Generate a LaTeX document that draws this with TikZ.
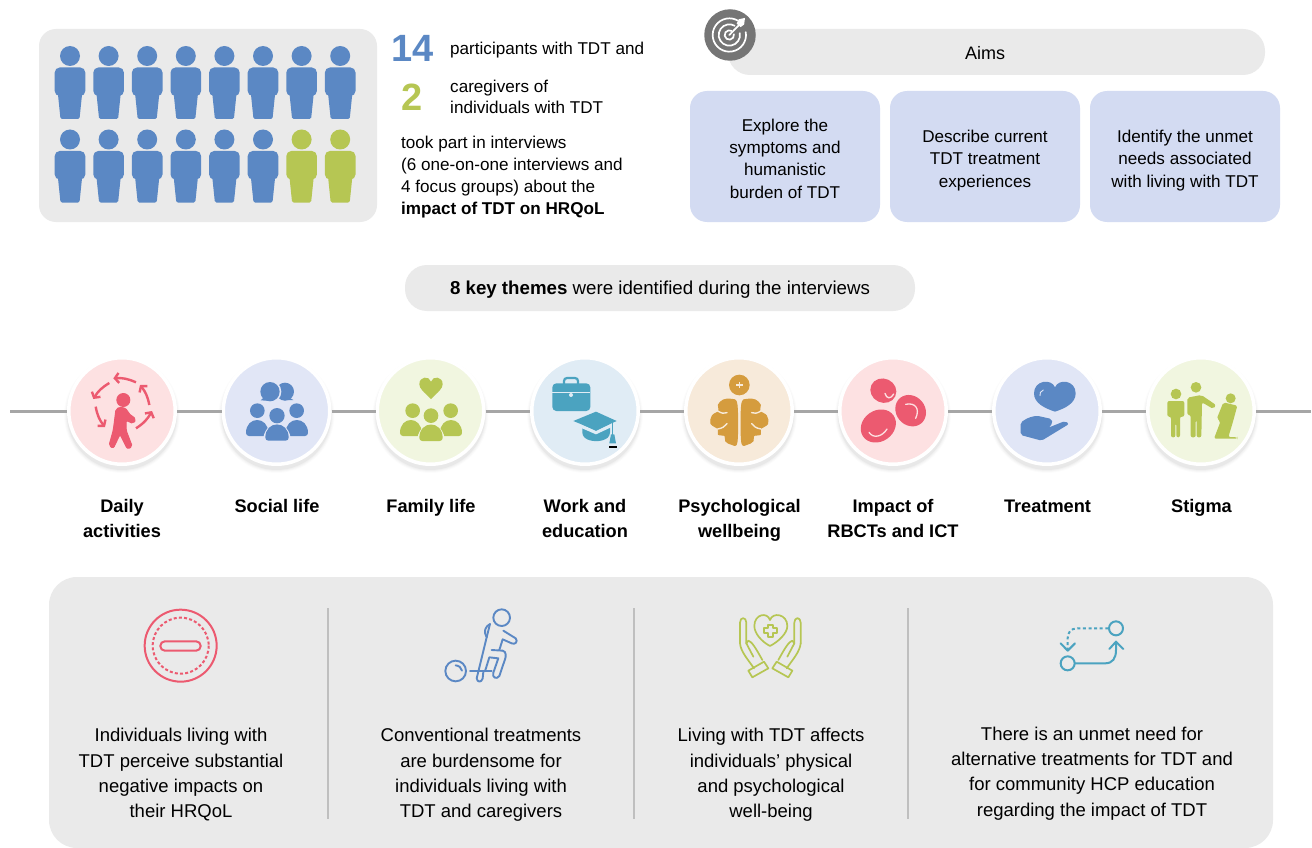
\documentclass[tikz,border=0pt]{standalone}
\usepackage{fontspec}
\setmainfont{Liberation Sans}
\usetikzlibrary{arrows.meta}
\definecolor{pblue}{HTML}{5B88C4}
\definecolor{pgreen}{HTML}{B6C653}
\definecolor{pred}{HTML}{EC5A70}
\definecolor{pteal}{HTML}{4BA3C0}
\definecolor{ptan}{HTML}{D59C3E}
\definecolor{panel}{HTML}{EAEAEA}
\definecolor{aimbox}{HTML}{D3DBF2}
\definecolor{cpink}{HTML}{FDE1E2}
\definecolor{clav}{HTML}{E1E6F6}
\definecolor{cgreen}{HTML}{F1F6E0}
\definecolor{csky}{HTML}{E0ECF5}
\definecolor{ccream}{HTML}{F7EADA}
\tikzset{
  pics/figure/.style={code={
    \fill[#1] (0,0) circle (10);
    \fill[#1,rounded corners=5] (-15.3,24) -- (-15.3,11.5) -- (15.3,11.5) -- (15.3,24) -- (15.3,40) -- (-15.3,40) -- cycle;
    \fill[#1,rounded corners=1.5] (-12.5,34) -- (12.5,34) -- (9.5,63) -- (-9.5,63) -- cycle;
  }},
  txt/.style={inner sep=0pt,font=\fontsize{17.1}{22.3}\selectfont,align=left},
  aimcard/.style={fill=aimbox,rounded corners=17pt,minimum width=190pt,minimum height=131pt,inner sep=0pt},
  aimtxt/.style={inner sep=0pt,font=\fontsize{17.1}{22.3}\selectfont,align=center},
  pill/.style={fill=panel,rounded corners=22pt,inner sep=0pt},
  bubble/.style={circle,draw=white,line width=3.5pt,minimum size=106.5pt,inner sep=0pt},
  theme/.style={inner sep=0pt,anchor=north,align=center,font=\fontsize{18.2}{25.3}\selectfont\bfseries},
  tline/.style={draw=black!35,line width=3pt},
  concl/.style={inner sep=0pt,anchor=north,align=center,font=\fontsize{18.5}{25.4}\selectfont},
  divider/.style={draw=black!25,line width=1.6pt},
  zoomA/.style={shift={(50,345)},x=0.33333pt,y=-0.33333pt},
  zoomB/.style={shift={(515,345)},x=0.33333pt,y=-0.33333pt},
  zoomC/.style={shift={(980,345)},x=0.33333pt,y=-0.33333pt},
  zoomD/.style={shift={(130,600)},x=0.33333pt,y=-0.33333pt},
  zoomE/.style={shift={(720,600)},x=0.33333pt,y=-0.33333pt},
  zoomT/.style={shift={(690,0)},x=0.33333pt,y=-0.33333pt},
  chev/.style={-{Straight Barb[length=4pt,width=10pt,line width=2.4pt]}},
}
\newcommand{\dome}[4]{(#1,#4) .. controls (#1,#3) and (#2,#3) .. (#2,#4) -- cycle}
\newcommand{\fs}{\rule{0pt}{14pt}}
\begin{document}
\begin{tikzpicture}[x=1pt,y=-1pt]
\useasboundingbox (0,0) rectangle (1312,848);
\fill[white] (0,0) rectangle (1312,848);

% --- participants panel
\fill[panel,rounded corners=17pt] (39,29) rectangle (377,222);
\foreach \i in {0,...,7} \pic at ({70+38.6*\i},56) {figure=pblue};
\foreach \i in {0,...,5} \pic at ({70+38.6*\i},139.5) {figure=pblue};
\foreach \i in {6,7} \pic at ({70+38.6*\i},139.5) {figure=pgreen};

\node[inner sep=0pt,font=\fontsize{38}{38}\selectfont\bfseries,text=pblue] (n14) at (413,48) {14};
\node[inner sep=0pt,font=\fontsize{38}{38}\selectfont\bfseries,text=pgreen] (n2) at (412,97) {2};
\node[txt,anchor=west] (t14) at (450,50) {participants with TDT and};
\node[txt,anchor=west,font=\fontsize{17.1}{21}\selectfont] (t2) at (450,97) {caregivers of\\individuals with TDT};
\node[txt,anchor=north west] (tint) at (401,135.5) {took part in interviews\\(6 one-on-one interviews and\\4 focus groups) about the\\\textbf{impact of TDT on HRQoL}};

% --- aims
\node[pill,minimum width=537pt,minimum height=46pt] (aims) at (996.5,52) {};
\node[inner sep=0pt,font=\fontsize{18}{22}\selectfont] (aimst) at (985,53.5) {Aims};
\node[circle,fill=black!54,minimum size=51.5pt,inner sep=0pt] (target) at (730,35) {};
\begin{scope}[zoomT,draw=white,line width=1.7pt,line cap=round]
  \draw ([shift={(118,105)}]-10:50) arc[start angle=-10,delta angle=310,radius=50];
  \draw ([shift={(118,105)}]-10:32) arc[start angle=-10,delta angle=310,radius=32];
  \draw ([shift={(118,105)}]-10:14) arc[start angle=-10,delta angle=310,radius=14];
  \draw (118,105) -- (150,72);
  \draw[fill=white] (143,70) -- (148,60) -- (162,57) -- (160,72) -- (152,78) -- cycle;
\end{scope}
\node[aimcard] (a1) at (785,156.5) {};
\node[aimcard] (a2) at (985,156.5) {};
\node[aimcard] (a3) at (1185,156.5) {};
\node[aimtxt] (a1t) at (785,158.5) {Explore the\\symptoms and\\humanistic\\burden of TDT};
\node[aimtxt] (a2t) at (985,160.5) {Describe current\\TDT treatment\\experiences};
\node[aimtxt] (a3t) at (1185,160.5) {Identify the unmet\\needs associated\\with living with TDT};

% --- key themes pill
\node[pill,minimum width=510pt,minimum height=46pt] (keyp) at (660,288) {};
\node[inner sep=0pt,font=\fontsize{18.7}{22}\selectfont] (keyt) at (660,289.5) {\textbf{8 key themes} were identified during the interviews};

% --- timeline
\coordinate (tlL) at (10,411);
\coordinate (tlR) at (1311,411);
\foreach \cx in {122,276.5,430.5,585,739,893,1047,1201}{
  \foreach \rr/\op in {58/0.012,57/0.018,56/0.025,55/0.035}
    \fill[black,opacity=\op] (\cx,415) circle (\rr);
}
\node[bubble,fill=cpink]  (c1) at (122,411) {};
\node[bubble,fill=clav]   (c2) at (276.5,411) {};
\node[bubble,fill=cgreen] (c3) at (430.5,411) {};
\node[bubble,fill=csky]   (c4) at (585,411) {};
\node[bubble,fill=ccream] (c5) at (739,411) {};
\node[bubble,fill=cpink]  (c6) at (893,411) {};
\node[bubble,fill=clav]   (c7) at (1047,411) {};
\node[bubble,fill=cgreen] (c8) at (1201,411) {};
\draw[tline] (tlL) -- (c1);
\draw[tline] (c1) -- (c2);
\draw[tline] (c2) -- (c3);
\draw[tline] (c3) -- (c4);
\draw[tline] (c4) -- (c5);
\draw[tline] (c5) -- (c6);
\draw[tline] (c6) -- (c7);
\draw[tline] (c7) -- (c8);
\draw[tline] (c8) -- (tlR);

% daily activities icon
\begin{scope}[zoomA]
  \fill[pred] (220,165) circle (21);
  \fill[pred,draw=pred,line width=1pt,line join=round,rounded corners=2pt] (198,192) .. controls (215,184) and (230,190) .. (235,205) -- (258,222) -- (250,236) -- (228,226) -- (228,255) -- (247,305) -- (232,312) -- (210,268) -- (190,310) -- (177,302) -- (190,255) -- cycle;
  \begin{scope}[draw=pred,line width=2.4pt,chev]
    \draw (258,112) to[bend right=14] (190,100);
    \draw (178,114) to[bend right=14] (130,162);
    \draw (137,185) to[bend right=14] (165,246);
    \draw (258,250) to[bend right=14] (306,198);
    \draw (298,180) to[bend right=14] (270,120);
  \end{scope}
\end{scope}

% social life icon
\begin{scope}[zoomA]
  \fill[pblue] (705,140) circle (27);
  \fill[pblue] (705,150) -- (730,165) -- (700,165) -- cycle;
  \fill[clav] (660,140) circle (34);
  \fill[pblue] (660,140) circle (29);
  \fill[pblue] (650,150) -- (632,166) -- (665,168) -- cycle;
  \fill[pblue] (622,197) circle (22);
  \fill[pblue] (740,197) circle (22);
  \fill[pblue,rounded corners=3pt] \dome{588}{655}{212}{273};
  \fill[pblue,rounded corners=3pt] \dome{707}{774}{212}{273};
  \fill[clav] \dome{640}{722}{218}{292};
  \fill[pblue] (681,212) circle (23);
  \fill[pblue,rounded corners=3pt] \dome{646}{716}{225}{287};
\end{scope}

% family life icon
\begin{scope}[zoomA]
  \fill[pgreen] (1143,162) .. controls (1120,140) and (1108,130) .. (1108,118) .. controls (1108,93) and (1138,92) .. (1143,110) .. controls (1148,92) and (1178,93) .. (1178,118) .. controls (1178,130) and (1166,140) .. (1143,162) -- cycle;
  \fill[pgreen] (1088,197) circle (22);
  \fill[pgreen] (1202,197) circle (22);
  \fill[pgreen,rounded corners=3pt] \dome{1050}{1115}{212}{273};
  \fill[pgreen,rounded corners=3pt] \dome{1170}{1236}{212}{273};
  \fill[cgreen] \dome{1100}{1186}{218}{294};
  \fill[pgreen] (1143,212) circle (22);
  \fill[pgreen,rounded corners=3pt] \dome{1108}{1178}{225}{288};
\end{scope}

% work and education icon
\begin{scope}[zoomB]
  \draw[pteal,line width=2.2pt,rounded corners=3pt] (147,118) -- (147,99) -- (189,99) -- (189,118);
  \fill[pteal,rounded corners=4pt] (112,115) rectangle (226,198);
  \draw[csky,line width=0.8pt] (112,143) -- (226,143);
  \fill[csky] (168,150) circle (6);
  \fill[pteal,rounded corners=3pt] (202,232) -- (202,272) .. controls (225,292) and (262,292) .. (285,272) -- (285,232) -- cycle;
  \fill[csky] (178,228) -- (243,258) -- (303,228) -- (303,240) -- (243,268) -- (178,240) -- cycle;
  \fill[pteal] (175,228) -- (243,200) -- (305,228) -- (243,256) -- cycle;
  \draw[pteal,line width=1pt] (293,230) -- (293,272);
  \fill[pteal] (288,268) -- (298,268) -- (303,295) -- (283,295) -- cycle;
  \fill[black] (282,302) rectangle (306,309);
\end{scope}

% psychological wellbeing icon
\begin{scope}[zoomB]
  \fill[ptan] (673,120) circle (31);
  \draw[ccream,line width=1.6pt] (663,120) -- (683,120) (673,110) -- (673,130);
  \foreach \sc/\sh in {1/0,-1/1346}{
    \begin{scope}[cm={\sc,0,0,1,(\sh*0.33333pt,0)}]
      \fill[ptan,draw=ptan,line width=1pt,line join=round] plot[smooth cycle,tension=0.6] coordinates {(666,180) (650,163) (625,165) (610,180) (612,198) (592,212) (588,236) (610,252) (610,268) (630,272) (632,288) (650,298) (666,290)};
      \draw[ccream,line width=1.4pt,line cap=round] (608,198) .. controls (620,205) and (628,207) .. (636,203);
      \draw[ccream,line width=1.4pt,line cap=round] (608,252) .. controls (622,250) and (630,244) .. (636,236);
    \end{scope}
  }
\end{scope}

% impact of RBCTs icon
\begin{scope}[zoomB]
  \fill[pred] (1105,137) ellipse[x radius=13.2pt,y radius=12pt,rotate=-25];
  \fill[pred] (1187,197) ellipse[x radius=16.5pt,y radius=14.5pt,rotate=-50];
  \fill[pred] (1090,243) ellipse[x radius=18.5pt,y radius=15.5pt,rotate=35];
  \begin{scope}[draw=cpink,line width=1.3pt,line cap=round]
    \draw (1110,145) .. controls (1115,163) and (1128,162) .. (1136,147);
    \draw (1172,178) .. controls (1200,172) and (1216,190) .. (1202,220);
    \draw (1062,262) .. controls (1075,282) and (1102,275) .. (1116,252);
  \end{scope}
\end{scope}

% treatment icon
\begin{scope}[zoomC]
  \fill[pblue] (225,200) .. controls (195,190) and (162,175) .. (162,145) .. controls (162,105) and (215,100) .. (225,127) .. controls (235,100) and (287,105) .. (287,145) .. controls (287,175) and (255,190) .. (225,200) -- cycle;
  \draw[clav,line width=0.9pt,line cap=round] (180,152) .. controls (178,145) and (182,138) .. (190,135);
  \fill[pblue,rounded corners=2pt] (122,232) -- (145,218) -- (170,212) -- (215,222) -- (218,235) -- (205,248) -- (255,228) -- (267,237) -- (185,287) -- (122,270) -- cycle;
\end{scope}

% stigma icon
\begin{scope}[zoomC]
  \fill[pgreen] (588,147) circle (16);
  \fill[pgreen,rounded corners=2pt] (562,168) -- (613,168) -- (613,215) -- (600,215) -- (600,277) -- (589,277) -- (589,235) -- (586,235) -- (586,277) -- (573,277) -- (573,215) -- (562,215) -- cycle;
  \fill[pgreen] (648,127) circle (16);
  \fill[pgreen,rounded corners=2pt] (622,158) -- (664,150) -- (708,180) -- (700,192) -- (666,172) -- (664,277) -- (650,277) -- (650,225) -- (647,225) -- (647,277) -- (632,277) -- (632,210) -- (622,210) -- cycle;
  \fill[pgreen] (752,160) circle (15);
  \fill[pgreen,rounded corners=2pt] (730,172) -- (772,182) -- (757,237) -- (745,276) -- (772,277) -- (772,281) -- (702,281) -- (722,228) -- (710,222) -- cycle;
\end{scope}

% --- theme labels
\node[theme] (l1) at (122,498) {\fs Daily\\activities};
\node[theme] (l2) at (277,498) {\fs Social life};
\node[theme] (l3) at (431,498) {\fs Family life};
\node[theme] (l4) at (585,498) {\fs Work and\\education};
\node[theme] (l5) at (739.5,498) {\fs Psychological\\wellbeing};
\node[theme] (l6) at (893,498) {\fs Impact of\\RBCTs and ICT};
\node[theme] (l7) at (1047.5,498) {\fs Treatment};
\node[theme] (l8) at (1201.5,498) {\fs Stigma};

% --- bottom panel
\fill[panel,rounded corners=28pt] (49,577) rectangle (1273,848);
\coordinate (d1a) at (328,608); \coordinate (d1b) at (328,819);
\coordinate (d2a) at (634,608); \coordinate (d2b) at (634,819);
\coordinate (d3a) at (908,608); \coordinate (d3b) at (908,819);
\draw[divider] (d1a) -- (d1b);
\draw[divider] (d2a) -- (d2b);
\draw[divider] (d3a) -- (d3b);

% negative impact icon
\begin{scope}[zoomD,draw=pred,line width=2pt]
  \draw (152,137) circle (108);
  \draw[dash pattern=on 3pt off 2.2pt] (152,137) circle (84);
  \draw[rounded corners=4.5pt] (91,124) rectangle (212,152);
\end{scope}

% burden icon
\begin{scope}[zoomD,draw=pblue,line width=1.9pt,line cap=round,line join=round]
  \draw (977,213) circle (31);
  \draw (977,196) .. controls (987,197) and (994,203) .. (996,212);
  \draw (1020,214) -- (1085,214);
  \draw (1115,53) circle (25);
  \draw (1080,72) .. controls (1065,80) and (1060,95) .. (1070,112) -- (1045,215) -- (1040,235) .. controls (1042,248) and (1055,248) .. (1058,235) -- (1060,216);
  \draw (1080,72) -- (1070,112);
  \draw (1120,92) -- (1157,115) .. controls (1165,125) and (1155,135) .. (1145,130) -- (1118,118) -- (1108,150);
  \draw (1085,150) -- (1118,152) .. controls (1130,155) and (1128,170) .. (1125,178) -- (1108,228) .. controls (1100,240) and (1085,232) .. (1090,218) -- (1105,175) -- (1078,172) -- (1065,214);
\end{scope}

% wellbeing icon
\begin{scope}[zoomE,draw=pgreen,line width=1.7pt,line join=round,line cap=round]
  \draw (150,138) .. controls (125,125) and (103,100) .. (103,78) .. controls (103,42) and (142,35) .. (150,60) .. controls (158,35) and (202,42) .. (202,78) .. controls (202,100) and (175,125) .. (150,138) -- cycle;
  \draw (143,75) -- (158,75) -- (158,85) -- (172,85) -- (172,100) -- (158,100) -- (158,110) -- (143,110) -- (143,100) -- (133,100) -- (133,85) -- (143,85) -- cycle;
  \foreach \sc/\sh in {1/0,-1/302}{
    \begin{scope}[cm={\sc,0,0,1,(\sh*0.33333pt,0)}]
      \draw (60,130) -- (60,68) .. controls (60,50) and (79,50) .. (79,68) -- (79,130);
      \draw (60,130) .. controls (62,155) and (85,180) .. (102,205);
      \draw (79,130) -- (85,122) .. controls (95,125) and (105,140) .. (127,180);
      \draw (79,130) -- (100,170);
      \draw (85,212) -- (132,185) -- (145,205) -- (97,232) -- cycle;
    \end{scope}
  }
\end{scope}

% unmet need icon
\begin{scope}[zoomE,draw=pteal,line width=2pt,line cap=round,line join=round]
  \draw (1188,85) circle (21);
  \draw (1043,190) circle (21);
  \draw (1065,190) -- (1155,190) .. controls (1178,190) and (1188,175) .. (1188,150) -- (1188,125);
  \draw (1168,147) -- (1188,125) -- (1210,147);
  \draw[dash pattern=on 3pt off 2.6pt,line cap=butt] (1165,85) -- (1072,85) .. controls (1052,85) and (1043,98) .. (1043,115) -- (1043,150);
  \draw (1022,130) -- (1043,152) -- (1065,130);
\end{scope}

% --- conclusions
\node[concl] (b1) at (181,728) {Individuals living with\\TDT perceive substantial\\negative impacts on\\their HRQoL};
\node[concl] (b2) at (481,728) {Conventional treatments\\are burdensome for\\individuals living with\\TDT and caregivers};
\node[concl] (b3) at (771,728) {Living with TDT affects\\individuals’ physical\\and psychological\\well-being};
\node[concl] (b4) at (1092,726.5) {There is an unmet need for\\alternative treatments for TDT and\\for community HCP education\\regarding the impact of TDT};
\end{tikzpicture}
\end{document}
